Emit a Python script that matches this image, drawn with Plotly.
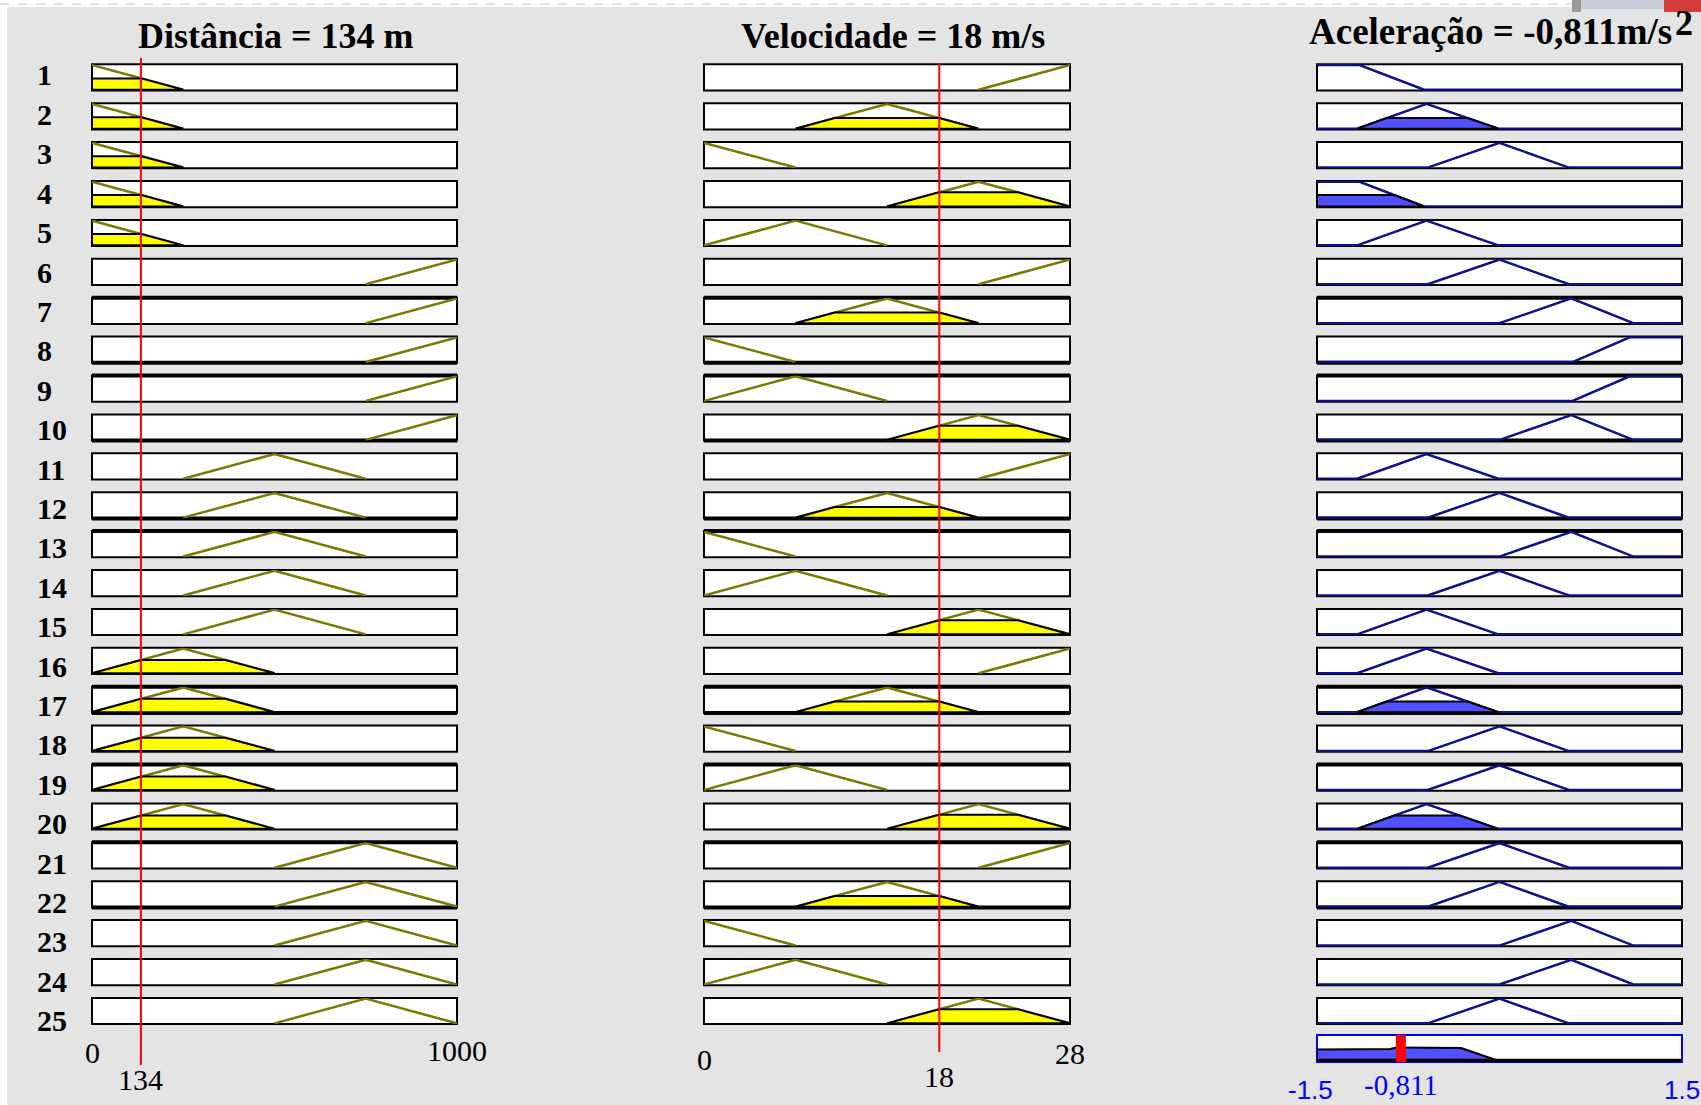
import numpy as np
import plotly.graph_objects as go

W, H = 1701, 1105

# ---------------- data ----------------
rule_numbers = list(range(1, 26))

dist_value = 134
vel_value = 18
acc_value = -0.811

dist_range = [0, 1000]
vel_range = [0, 28]
acc_range = [-1.5, 1.5]

# membership functions as trapezoids [a, b, c, d]
dist_mf_names = ["MP", "P", "M", "L", "ML"]
dist_mf_params = [[0, 0, 0, 250], [0, 250, 250, 500], [250, 500, 500, 750],
                  [500, 750, 750, 1000], [750, 1000, 1000, 1000]]
dist_mf_level = [0.46, 0.54, 0.0, 0.0, 0.0]          # membership of 134 m

vel_mf_names = ["MB", "B", "M", "A", "MA"]
vel_mf_params = [[0, 0, 0, 7], [0, 7, 7, 14], [7, 14, 14, 21],
                 [14, 21, 21, 28], [21, 28, 28, 28]]
vel_mf_level = [0.0, 0.0, 0.43, 0.57, 0.0]           # membership of 18 m/s

acc_mf_names = ["FF", "F", "Z", "A", "AF"]
acc_mf_params = [[-1.5, -1.5, -1.15, -0.62], [-1.17, -0.6, -0.6, -0.01],
                 [-0.59, 0.0, 0.0, 0.57], [0.0, 0.59, 0.59, 1.1],
                 [0.6, 1.07, 1.5, 1.5]]

rule_dist = ["MP"] * 5 + ["ML"] * 5 + ["M"] * 5 + ["P"] * 5 + ["L"] * 5
rule_vel = ["MA", "M", "MB", "A", "B"] + ["MA", "M", "MB", "B", "A"] * 4
rule_acc = ["FF", "F", "Z", "FF", "F",
            "Z", "A", "AF", "AF", "A",
            "F", "Z", "A", "Z", "F",
            "F", "F", "Z", "Z", "F",
            "Z", "Z", "A", "A", "Z"]

dist_tick_labels = ["0", "1000", "134"]
vel_tick_labels = ["0", "28", "18"]
acc_tick_labels = ["-1.5", "1.5", "-0,811"]

# ---------------- helpers ----------------
def px(x):
    return x / W


def py(y):
    return 1 - y / H


def mf_line(p, lo, hi, full):
    a, b, c, d = p
    xs, ys = [], []
    if full and a > lo:
        xs.append(lo); ys.append(0)
    if a < b:
        xs.append(a); ys.append(0)
    xs.append(b); ys.append(1)
    if c > b:
        xs.append(c); ys.append(1)
    if c < d:
        xs.append(d); ys.append(0)
    if full and d < hi:
        xs.append(hi); ys.append(0)
    return xs, ys


def clipped(p, h):
    a, b, c, d = p
    return [a, a + h * (b - a), d - h * (d - c), d, a], [0, h, h, 0, 0]


def mu(p, x):
    a, b, c, d = p
    y = np.ones_like(x)
    if b > a:
        y = np.minimum(y, (x - a) / (b - a))
    if d > c:
        y = np.minimum(y, (d - x) / (d - c))
    y = np.clip(y, 0, 1)
    y[(x < a) | (x > d)] = 0
    return y


OLIVE = "#7a7a00"
NAVY = "#10108f"
YELLOW = "#ffff00"
BLUEFILL = "#5050ff"
BG = "#e4e4e4"

col_px = [(92, 457), (704, 1070), (1317, 1682)]
row_top0, row_pitch, row_h = 64.3, 38.9, 26.2
agg_top, agg_bot = 1035, 1062

fig = go.Figure()
layout = dict(width=W, height=H, margin=dict(l=0, r=0, t=0, b=0),
              paper_bgcolor=BG, plot_bgcolor="rgba(0,0,0,0)",
              showlegend=False)

ranges = [dist_range, vel_range, acc_range]
xnames = ["x", "x2", "x3"]
for i, (l, r) in enumerate(col_px):
    key = "xaxis" if i == 0 else f"xaxis{i + 1}"
    layout[key] = dict(domain=[px(l), px(r)], range=ranges[i], visible=False,
                       anchor="y", fixedrange=True)

for k in range(26):
    key = "yaxis" if k == 0 else f"yaxis{k + 1}"
    if k < 25:
        top = row_top0 + k * row_pitch
        bot = top + row_h
    else:
        top, bot = agg_top, agg_bot
    layout[key] = dict(domain=[py(bot), py(top)], range=[-0.03, 1.03],
                       visible=False, anchor="x", fixedrange=True)

shapes = []
annotations = []

# screenshot edges
shapes.append(dict(type="rect", xref="paper", yref="paper", x0=0, x1=px(1572),
                   y0=py(7), y1=1, fillcolor="white", line=dict(width=0), layer="below"))
shapes.append(dict(type="rect", xref="paper", yref="paper", x0=0, x1=px(7),
                   y0=0, y1=1, fillcolor="white", line=dict(width=0), layer="below"))
shapes.append(dict(type="line", xref="paper", yref="paper", x0=0, x1=px(1572),
                   y0=py(4), y1=py(4), line=dict(color="#b8c4e0", width=1, dash="dash"),
                   layer="below"))
shapes.append(dict(type="rect", xref="paper", yref="paper", x0=px(1572), x1=px(1581),
                   y0=py(12), y1=1, fillcolor="#9a9a9a", line=dict(width=0), layer="below"))
shapes.append(dict(type="rect", xref="paper", yref="paper", x0=px(1581), x1=px(1664),
                   y0=py(9), y1=1, fillcolor="#c9ccd6", line=dict(width=0), layer="below"))
shapes.append(dict(type="rect", xref="paper", yref="paper", x0=px(1664), x1=1,
                   y0=py(12), y1=1, fillcolor="#d43c3c", line=dict(width=0), layer="below"))

thick_top = [7, 9, 13, 17, 19, 21]
thick_bottom = [8, 10, 12, 17, 22]

# boxes
for k in range(26):
    ya = "y" if k == 0 else f"y{k + 1}"
    cols = range(3) if k < 25 else [2]
    for c in cols:
        xa = xnames[c]
        shapes.append(dict(type="rect", xref=f"{xa} domain", yref=f"{ya} domain",
                           x0=0, x1=1, y0=0, y1=1, fillcolor="white",
                           line=dict(color="#0000ff" if k == 25 else "black", width=2),
                           layer="below"))
        if k < 25 and (k + 1) in thick_top:
            shapes.append(dict(type="line", xref=f"{xa} domain", yref=f"{ya} domain",
                               x0=0, x1=1, y0=1, y1=1, line=dict(color="black", width=4),
                               layer="below"))
        if k < 25 and (k + 1) in thick_bottom:
            shapes.append(dict(type="line", xref=f"{xa} domain", yref=f"{ya} domain",
                               x0=0, x1=1, y0=0, y1=0, line=dict(color="black", width=4),
                               layer="below"))

strengths = []
for r in range(25):
    ya = "y" if r == 0 else f"y{r + 1}"
    di = dist_mf_names.index(rule_dist[r])
    vi = vel_mf_names.index(rule_vel[r])
    ai = acc_mf_names.index(rule_acc[r])
    # distance
    xs, ys = mf_line(dist_mf_params[di], *dist_range, False)
    fig.add_trace(go.Scatter(x=xs, y=ys, xaxis="x", yaxis=ya, mode="lines",
                             line=dict(color=OLIVE, width=2.5), hoverinfo="skip"))
    if dist_mf_level[di] > 0:
        cx, cy = clipped(dist_mf_params[di], dist_mf_level[di])
        fig.add_trace(go.Scatter(x=cx, y=cy, xaxis="x", yaxis=ya, mode="lines",
                                 fill="toself", fillcolor=YELLOW,
                                 line=dict(color="black", width=2), hoverinfo="skip"))
    # velocity
    xs, ys = mf_line(vel_mf_params[vi], *vel_range, False)
    fig.add_trace(go.Scatter(x=xs, y=ys, xaxis="x2", yaxis=ya, mode="lines",
                             line=dict(color=OLIVE, width=2.5), hoverinfo="skip"))
    if vel_mf_level[vi] > 0:
        cx, cy = clipped(vel_mf_params[vi], vel_mf_level[vi])
        fig.add_trace(go.Scatter(x=cx, y=cy, xaxis="x2", yaxis=ya, mode="lines",
                                 fill="toself", fillcolor=YELLOW,
                                 line=dict(color="black", width=2), hoverinfo="skip"))
    # output
    s = min(dist_mf_level[di], vel_mf_level[vi])
    strengths.append(s)
    xs, ys = mf_line(acc_mf_params[ai], *acc_range, True)
    fig.add_trace(go.Scatter(x=xs, y=ys, xaxis="x3", yaxis=ya, mode="lines",
                             line=dict(color=NAVY, width=2.5), hoverinfo="skip"))
    if s > 0:
        cx, cy = clipped(acc_mf_params[ai], s)
        fig.add_trace(go.Scatter(x=cx, y=cy, xaxis="x3", yaxis=ya, mode="lines",
                                 fill="toself", fillcolor=BLUEFILL,
                                 line=dict(color="black", width=2), hoverinfo="skip"))

# aggregated output
xg = np.linspace(acc_range[0], acc_range[1], 601)
agg = np.zeros_like(xg)
for r in range(25):
    if strengths[r] > 0:
        ai = acc_mf_names.index(rule_acc[r])
        agg = np.maximum(agg, np.minimum(mu(acc_mf_params[ai], xg), strengths[r]))
fig.add_trace(go.Scatter(x=[acc_range[0]] + list(xg) + [acc_range[1]],
                         y=[0] + list(agg) + [0], xaxis="x3", yaxis="y26",
                         mode="lines", fill="toself", fillcolor=BLUEFILL,
                         line=dict(color="black", width=2), hoverinfo="skip"))
fig.add_trace(go.Scatter(x=acc_range, y=[0, 0], xaxis="x3", yaxis="y26", mode="lines",
                         line=dict(color="black", width=5), hoverinfo="skip"))

# red input / output markers
shapes.append(dict(type="line", xref="x", yref="paper", x0=dist_value, x1=dist_value,
                   y0=py(1065), y1=py(58), line=dict(color="#ff0000", width=2)))
shapes.append(dict(type="line", xref="x2", yref="paper", x0=vel_value, x1=vel_value,
                   y0=py(1052), y1=py(63), line=dict(color="#ff0000", width=2)))
shapes.append(dict(type="line", xref="x3", yref="y26 domain", x0=acc_value, x1=acc_value,
                   y0=0, y1=1, line=dict(color="#ff0000", width=10)))

# row labels
for i, n in enumerate(rule_numbers):
    annotations.append(dict(text=f"<b>{n}</b>", xref="paper", yref="paper",
                            x=px(35), y=py(75 + i * 39.4), xanchor="left",
                            yanchor="middle", showarrow=False,
                            font=dict(family="Liberation Serif", size=30, color="black")))

# titles
TF = dict(family="Liberation Serif", size=36, color="black")
annotations.append(dict(text="<b>Distância = 134 m</b>", xref="paper", yref="paper",
                        x=px(275.5), y=py(36.5), xanchor="center", yanchor="middle",
                        showarrow=False, font=TF))
annotations.append(dict(text="<b>Velocidade = 18 m/s</b>", xref="paper", yref="paper",
                        x=px(893), y=py(36.5), xanchor="center", yanchor="middle",
                        showarrow=False, font=TF))
annotations.append(dict(text="<b>Aceleração = -0,811m/s</b>", xref="paper", yref="paper",
                        x=px(1307), y=py(31.5), xanchor="left", yanchor="middle",
                        showarrow=False, font=dict(family="Liberation Serif", size=37,
                                                   color="black")))
annotations.append(dict(text="<b>2</b>", xref="paper", yref="paper",
                        x=px(1673), y=py(23), xanchor="left", yanchor="middle",
                        showarrow=False, font=TF))

# bottom tick labels
LF = dict(family="Liberation Serif", size=30, color="black")
tick_specs = [
    ("x", 0, dist_tick_labels[0], 1052),
    ("x", 1000, dist_tick_labels[1], 1050),
    ("x", dist_value, dist_tick_labels[2], 1079),
    ("x2", 0, vel_tick_labels[0], 1059),
    ("x2", 28, vel_tick_labels[1], 1053),
    ("x2", vel_value, vel_tick_labels[2], 1076),
]
for xa, xv, txt, yy in tick_specs:
    annotations.append(dict(text=txt, xref=xa, yref="paper", x=xv, y=py(yy),
                            xanchor="center", yanchor="middle", showarrow=False, font=LF))

SF = dict(family="Liberation Sans", size=26, color="#0000ff")
annotations.append(dict(text=acc_tick_labels[0], xref="x3", yref="paper", x=-1.5,
                        xshift=-7, y=py(1090), xanchor="center", yanchor="middle",
                        showarrow=False, font=SF))
annotations.append(dict(text=acc_tick_labels[1], xref="x3", yref="paper", x=1.5,
                        y=py(1090), xanchor="center", yanchor="middle",
                        showarrow=False, font=SF))
annotations.append(dict(text=acc_tick_labels[2], xref="x3", yref="paper", x=acc_value,
                        y=py(1085), xanchor="center", yanchor="middle", showarrow=False,
                        font=dict(family="Liberation Serif", size=29, color="#0000ff")))

layout["shapes"] = shapes
layout["annotations"] = annotations
fig.update_layout(**layout)
fig.write_html("out.html")
